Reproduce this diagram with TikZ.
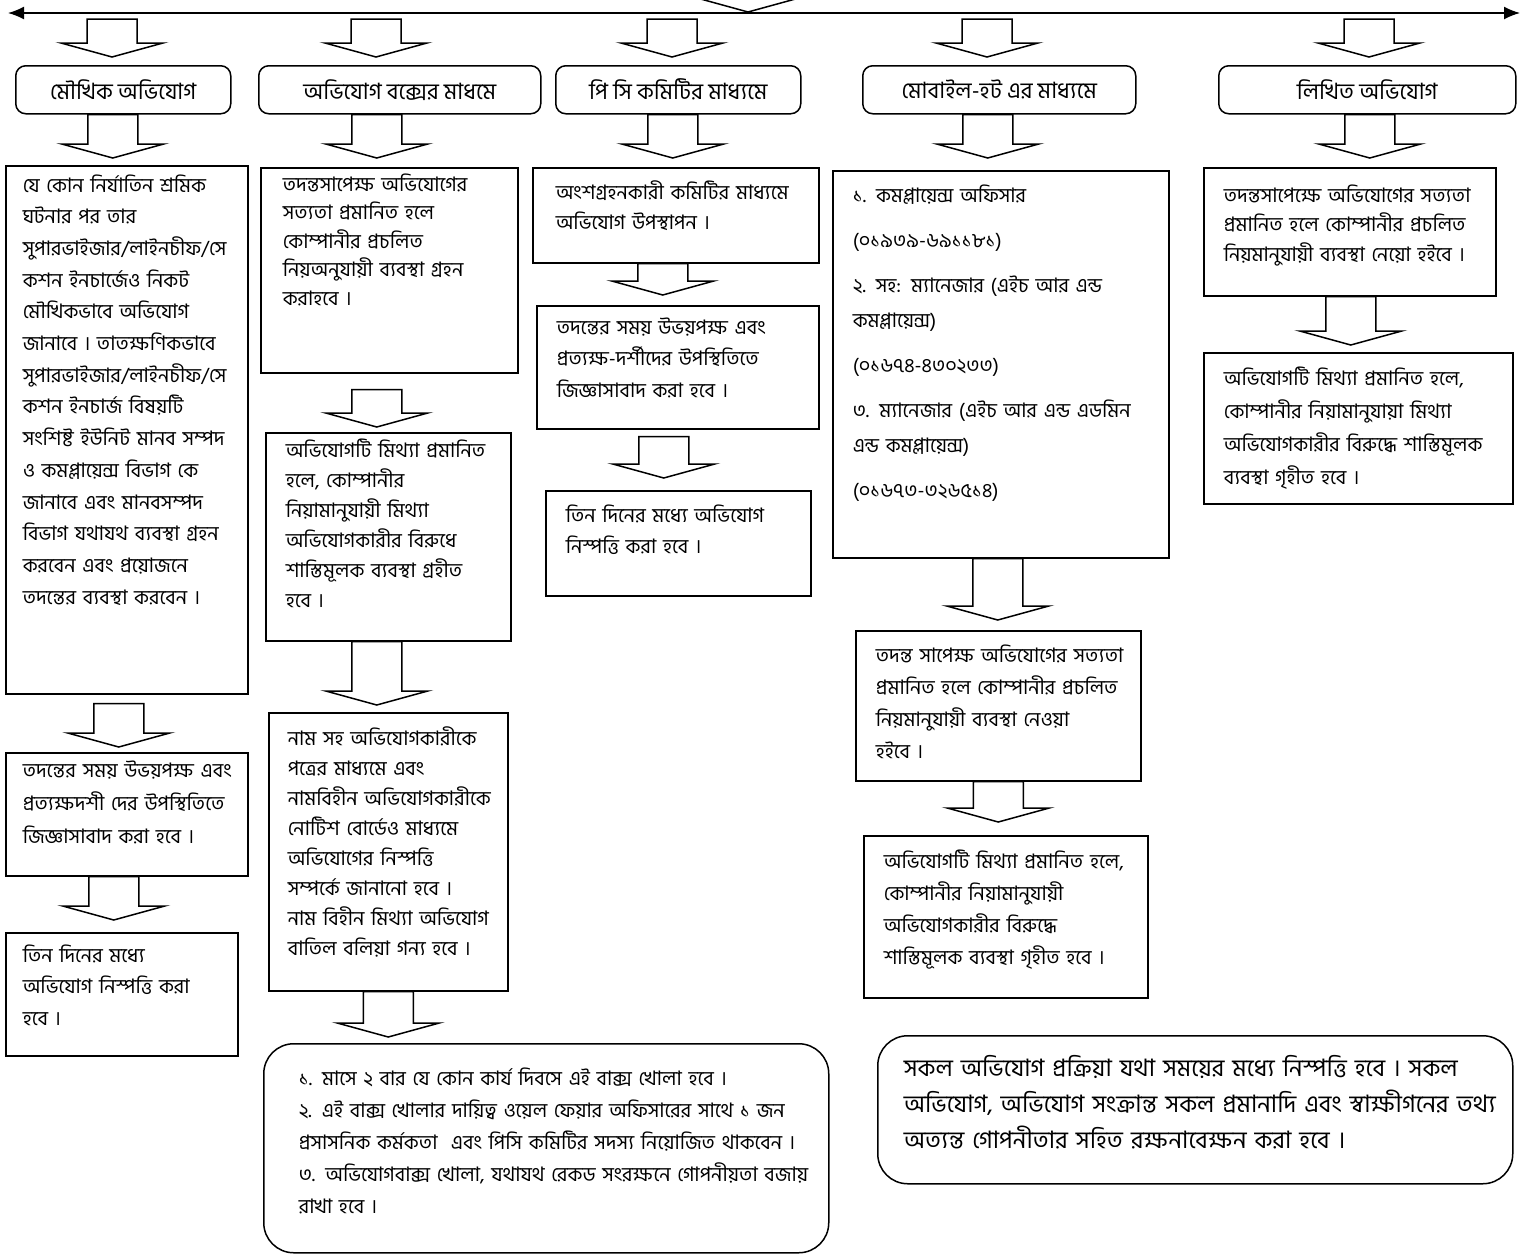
\documentclass[tikz,border=0pt]{standalone}
\usepackage{fontspec}
\newfontfamily\bn[Script=Bengali]{Hind Siliguri}
\usetikzlibrary{arrows.meta,calc}
\begin{document}
\begin{tikzpicture}[x=1pt,y=-1pt,anchor=north west,line width=1.5pt,
  frm/.style={draw,inner sep=0pt},
  hd/.style={draw,rounded corners=10pt,inner sep=0pt,minimum height=48pt,font=\bn\fontsize{22.5}{26}\selectfont},
  txt/.style={anchor=base west,inner sep=0pt,align=left,text width=420pt,font=\bn\fontsize{20}{#1}\selectfont},
  txt/.default=31,
  hollow/.style={to path={let \p1=(\tikztostart),\p2=(\tikztotarget) in
    (\x1-25pt,\y1) -- (\x1+25pt,\y1) -- (\x1+25pt,\y2+14pt) -- (\x1+51pt,\y2+14pt) -- (\x1,\y2)
    -- (\x1-51pt,\y2+14pt) -- (\x1-25pt,\y2+14pt) -- cycle}}]
\useasboundingbox (0,0) rectangle (1528,1256);
\clip (0,0) rectangle (1528,1256);
\coordinate (lft) at (8,13); \coordinate (rgt) at (1520,13);
\coordinate (vs) at (748,-40); \coordinate (vt) at (748,12);
\draw[{Latex[length=16pt,width=13pt]}-{Latex[length=16pt,width=13pt]}] (lft) -- (rgt);
\draw[hollow] (vs) to (vt);
\coordinate (s1) at (112,19); \coordinate (s2) at (376,19); \coordinate (s3) at (672,19);
\coordinate (s4) at (987,19); \coordinate (s5) at (1369,19);
\node[hd,minimum width=215pt] (h1) at (15,65) {মৌখিক অভিযোগ};
\node[hd,minimum width=282pt] (h2) at (258,65) {অভিযোগ বক্সের মাধমে};
\node[hd,minimum width=245pt] (h3) at (555,65) {পি সি কমিটির মাধ্যমে};
\node[hd,minimum width=273pt] (h4) at (862,65) {মোবাইল-হট এর মাধ্যমে};
\node[hd,minimum width=297pt] (h5) at (1218,65) {লিখিত অভিযোগ};
\node[frm,minimum width=242pt,minimum height=528pt] (b1a) at (5,165) {};
\node[frm,minimum width=242pt,minimum height=123pt] (b1b) at (5,752) {};
\node[frm,minimum width=232pt,minimum height=123pt] (b1c) at (5,932) {};
\node[frm,minimum width=257pt,minimum height=205pt] (b2a) at (260,167) {};
\node[frm,minimum width=245pt,minimum height=208pt] (b2b) at (265,432) {};
\node[frm,minimum width=239pt,minimum height=278pt] (b2c) at (268,712) {};
\node[frm,rounded corners=30pt,minimum width=565pt,minimum height=209pt] (b2d) at (263,1043) {};
\node[frm,minimum width=286pt,minimum height=95pt] (b3a) at (532,167) {};
\node[frm,minimum width=282pt,minimum height=123pt] (b3b) at (536,305) {};
\node[frm,minimum width=265pt,minimum height=105pt] (b3c) at (545,490) {};
\node[frm,minimum width=336pt,minimum height=387pt] (b4a) at (832,170) {};
\node[frm,minimum width=285pt,minimum height=150pt] (b4b) at (855,630) {};
\node[frm,minimum width=284pt,minimum height=162pt] (b4c) at (863,835) {};
\node[frm,minimum width=292pt,minimum height=128pt] (b5a) at (1203,167) {};
\node[frm,minimum width=309pt,minimum height=151pt] (b5b) at (1203,352) {};
\node[frm,rounded corners=30pt,minimum width=635pt,minimum height=148pt] (bR) at (877,1035) {};
\draw[hollow] (s1) to ([yshift=8pt]h1.north); \draw[hollow] (s2) to ([yshift=8pt]h2.north);
\draw[hollow] (s3) to ([yshift=8pt]h3.north); \draw[hollow] (s4) to ([yshift=8pt]h4.north);
\draw[hollow] (s5) to ([yshift=8pt]h5.north);
\draw[hollow] ([xshift=-10.5pt]h1.south) to ([yshift=7pt]b1a.north);
\draw[hollow] ([xshift=-23pt]h2.south) to ([yshift=9pt]b2a.north);
\draw[hollow] ([xshift=-5.5pt]h3.south) to ([yshift=9pt]b3a.north);
\draw[hollow] ([xshift=-11.5pt]h4.south) to ([yshift=12pt]b4a.north);
\draw[hollow] ([xshift=2.5pt]h5.south) to ([yshift=9pt]b5a.north);
\draw[hollow] ([xshift=-8pt,yshift=-9pt]b1a.south) to ([yshift=5pt]b1b.north);
\draw[hollow] ([xshift=-13pt]b1b.south) to ([yshift=12pt]b1c.north);
\draw[hollow] ([xshift=-12.5pt,yshift=-16pt]b2a.south) to ([yshift=5pt]b2b.north);
\draw[hollow] ([xshift=-11.5pt]b2b.south) to ([yshift=7pt]b2c.north);
\draw[hollow] (b2c.south) to ([yshift=6pt]b2d.north);
\draw[hollow] ([xshift=-13pt]b3a.south) to ([yshift=10pt]b3b.north);
\draw[hollow] ([xshift=-14pt,yshift=-7pt]b3b.south) to ([yshift=12pt]b3c.north);
\draw[hollow] ([xshift=-3pt]b4a.south) to ([yshift=10pt]b4b.north);
\draw[hollow] (b4b.south) to ([yshift=13pt]b4c.north);
\draw[hollow] ([xshift=1pt]b5a.south) to ([yshift=7pt]b5b.north);
\node[txt=31.7] (t1a) at (22,192) {যে কোন নির্যাতিন শ্রমিক\\ঘটনার পর তার\\সুপারভাইজার/লাইনচীফ/সে\\কশন ইনচার্জেও নিকট\\মৌখিকভাবে অভিযোগ\\জানাবে । তাতক্ষণিকভাবে\\সুপারভাইজার/লাইনচীফ/সে\\কশন ইনচার্জ বিষয়টি\\সংশিষ্ট ইউনিট মানব সম্পদ\\ও কমপ্লায়েন্স বিভাগ কে\\জানাবে এবং মানবসম্পদ\\বিভাগ যথাযথ ব্যবস্থা গ্রহন\\করবেন এবং প্রয়োজনে\\তদন্তের ব্যবস্থা করবেন ।};
\node[txt=33] (t1b) at (22,777) {তদন্তের সময় উভয়পক্ষ এবং\\প্রত্যক্ষদশী দের উপস্থিতিতে\\জিজ্ঞাসাবাদ করা হবে ।};
\node[txt=31.7] (t1c) at (22,962) {তিন দিনের মধ্যে\\অভিযোগ নিস্পত্তি করা\\হবে ।};
\node[txt=28.5] (t2a) at (282,191) {তদন্তসাপেক্ষ অভিযোগের\\সত্যতা প্রমানিত হলে\\কোম্পানীর প্রচলিত\\নিয়অনুযায়ী ব্যবস্থা গ্রহন\\করাহবে ।};
\node[txt=30] (t2b) at (285,457) {অভিযোগটি মিথ্যা প্রমানিত\\হলে, কোম্পানীর\\নিয়ামানুযায়ী মিথ্যা\\অভিযোগকারীর বিরুধে\\শাস্তিমূলক ব্যবস্থা গ্রহীত\\হবে ।};
\node[txt=30] (t2c) at (287,745) {নাম সহ অভিযোগকারীকে\\পত্রের মাধ্যমে এবং\\নামবিহীন অভিযোগকারীকে\\নোটিশ বোর্ডেও মাধ্যমে\\অভিযোগের নিস্পত্তি\\সম্পর্কে জানানো হবে ।\\নাম বিহীন মিথ্যা অভিযোগ\\বাতিল বলিয়া গন্য হবে ।};
\node[txt=32,text width=540pt] (t2d) at (298,1085) {১. মাসে ২ বার যে কোন কার্য দিবসে এই বাক্স খোলা হবে ।\\২. এই বাক্স খোলার দায়িত্ব ওয়েল ফেয়ার অফিসারের সাথে ১ জন\\প্রসাসনিক কর্মকতা~ এবং পিসি কমিটির সদস্য নিয়োজিত থাকবেন ।\\৩. অভিযোগবাক্স খোলা, যথাযথ রেকড সংরক্ষনে গোপনীয়তা বজায়\\রাখা হবে ।};
\node[txt=30] (t3a) at (555,199) {অংশগ্রহনকারী কমিটির মাধ্যমে\\অভিযোগ উপস্থাপন ।};
\node[txt=31.5] (t3b) at (556,334) {তদন্তের সময় উভয়পক্ষ এবং\\প্রত্যক্ষ-দর্শীদের উপস্থিতিতে\\জিজ্ঞাসাবাদ করা হবে ।};
\node[txt=31] (t3c) at (565,522) {তিন দিনের মধ্যে অভিযোগ\\নিস্পত্তি করা হবে ।};
\node[txt=35] (t4a) at (852,202) {১. কমপ্লায়েন্স অফিসার\\[10pt](০১৯৩৯-৬৯১১৮১)\\[10pt]২. সহ: ম্যানেজার (এইচ আর এন্ড\\কমপ্লায়েন্স)\\[10pt](০১৬৭৪-৪৩০২৩৩)\\[10pt]৩. ম্যানেজার (এইচ আর এন্ড এডমিন\\এন্ড কমপ্লায়েন্স)\\[10pt](০১৬৭৩-৩২৬৫১৪)};
\node[txt=32] (t4b) at (875,662) {তদন্ত সাপেক্ষ অভিযোগের সত্যতা\\প্রমানিত হলে কোম্পানীর প্রচলিত\\নিয়মানুযায়ী ব্যবস্থা নেওয়া\\হইবে ।};
\node[txt=32.3] (t4c) at (883,868) {অভিযোগটি মিথ্যা প্রমানিত হলে,\\কোম্পানীর নিয়ামানুযায়ী\\অভিযোগকারীর বিরুদ্ধে\\শাস্তিমূলক ব্যবস্থা গৃহীত হবে ।};
\node[txt=29.5] (t5a) at (1223,202) {তদন্তসাপেক্ষে অভিযোগের সত্যতা\\প্রমানিত হলে কোম্পানীর প্রচলিত\\নিয়মানুযায়ী ব্যবস্থা নেয়ো হইবে ।};
\node[txt=33] (t5b) at (1223,385) {অভিযোগটি মিথ্যা প্রমানিত হলে,\\কোম্পানীর নিয়ামানুযায়া মিথ্যা\\অভিযোগকারীর বিরুদ্ধে শাস্তিমূলক\\ব্যবস্থা গৃহীত হবে ।};
\node[txt=36,text width=620pt,font=\bn\fontsize{24}{36}\selectfont] (tR) at (903,1076) {সকল অভিযোগ প্রক্রিয়া যথা সময়ের মধ্যে নিস্পত্তি হবে । সকল\\অভিযোগ, অভিযোগ সংক্রান্ত সকল প্রমানাদি এবং স্বাক্ষীগনের তথ্য\\অত্যন্ত গোপনীতার সহিত রক্ষনাবেক্ষন করা হবে ।};
\end{tikzpicture}
\end{document}
